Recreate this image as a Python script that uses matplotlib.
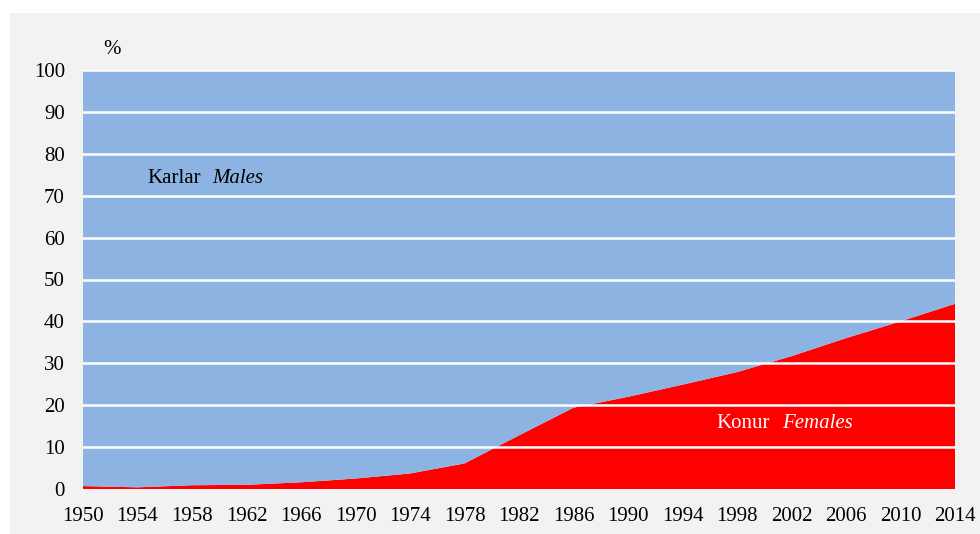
import matplotlib
matplotlib.use("Agg")
import matplotlib.pyplot as plt
from matplotlib.patches import Rectangle

years = [1950, 1954, 1958, 1962, 1966, 1970, 1974, 1978, 1982, 1986,
         1990, 1994, 1998, 2002, 2006, 2010, 2014]
females = [0.7, 0.4, 0.9, 1.0, 1.6, 2.5, 3.7, 6.1, 12.8, 19.4,
           22.0, 24.9, 27.9, 31.7, 36.0, 40.0, 44.2]
males = [100 - f for f in females]
yticks = list(range(0, 101, 10))

plt.rcParams['font.family'] = ['Liberation Serif', 'DejaVu Serif']

fig = plt.figure(figsize=(9.8, 5.34), dpi=100, facecolor='white')
fig.patches.append(Rectangle((10 / 980, 0), 1, (534 - 13) / 534,
                             transform=fig.transFigure, facecolor='#F2F2F2',
                             edgecolor='none', zorder=-10))
ax = fig.add_axes([83 / 980, 1 - 489 / 534, (955 - 83) / 980, (489 - 70) / 534])
ax.set_facecolor('none')

ax.stackplot(years, females, males, colors=['#FF0000', '#8DB3E2'], linewidth=0)
for v in yticks[1:]:
    ax.axhline(v, color='white', lw=1.8, zorder=3)

ax.set_xlim(years[0], years[-1])
ax.set_ylim(0, 100)
ax.set_xticks(years)
ax.set_yticks(yticks)
ax.tick_params(length=0, labelsize=15, colors='black')
ax.tick_params(axis='y', pad=13)
ax.tick_params(axis='x', pad=13)
for s in ax.spines.values():
    s.set_visible(False)

fig.text(112 / 980, 1 - 49 / 534, '%', fontsize=15, ha='center', va='center')
ax.text(1954.75, 74.1, 'Karlar', fontsize=15, ha='left', va='center')
ax.text(1959.5, 74.1, 'Males', fontsize=15, style='italic', ha='left', va='center')
ax.text(1996.5, 15.7, 'Konur', fontsize=15, color='white', ha='left', va='center')
ax.text(2001.3, 15.7, 'Females', fontsize=15, color='white', style='italic',
        ha='left', va='center')

fig.savefig('out.png', dpi=100, facecolor=fig.get_facecolor())
